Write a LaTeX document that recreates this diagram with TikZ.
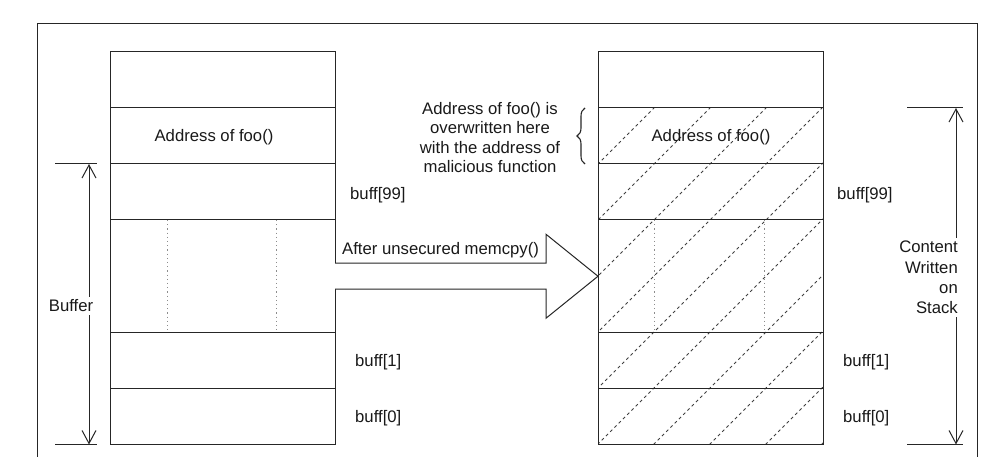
\documentclass[tikz,border=0pt]{standalone}
\usepackage{fontspec}
\setmainfont{Liberation Sans}
\usetikzlibrary{arrows.meta,decorations.pathreplacing}
\begin{document}
\begin{tikzpicture}[x=1pt,y=-1pt,
  ln/.style={draw=black!85,line width=1pt},
  cell/.style={draw=black!85,line width=1pt,minimum width=225pt,inner sep=0pt,outer sep=0pt},
  txt/.style={inner sep=0pt,font=\fontsize{16.7}{19.5}\selectfont,text=black!90},
  lbl/.style={txt,fill=white,inner sep=3pt},
  hatch/.style={draw=black!75,line width=1pt,dash pattern=on 3pt off 3pt},
  dots/.style={draw=black!45,line width=0.9pt,dash pattern=on 1.2pt off 3pt},
  dim/.style={draw=black!85,line width=1pt,{Straight Barb[length=13pt,width=14pt]}-{Straight Barb[length=13pt,width=14pt]}}
]
\useasboundingbox (0,0) rectangle (989,457);
% outer frame
\draw[ln] (37,458) -- (37,24) -- (977,24) -- (977,458);

% hatching of the right stack
\begin{scope}
\clip (598,108) rectangle (823,444.5);
\foreach \c in {762,818,...,1266} \draw[hatch] ({\c-444.5},444.5) -- ({\c-108},108);
\end{scope}

% left stack
\node[cell,minimum height=56pt] (L0) at (222.5,80) {};
\node[cell,minimum height=56pt] (L1) at (222.5,136) {};
\node[cell,minimum height=56pt] (L2) at (222.5,192) {};
\node[cell,minimum height=112.5pt] (L3) at (222.5,276.25) {};
\node[cell,minimum height=56pt] (L4) at (222.5,360.5) {};
\node[cell,minimum height=56pt] (L5) at (222.5,416.5) {};
\draw[dots] (167,220) -- (167,332.5);
\draw[dots] (276,220) -- (276,332.5);

% right stack
\node[cell,minimum height=56pt] (R0) at (710.5,80) {};
\node[cell,minimum height=56pt] (R1) at (710.5,136) {};
\node[cell,minimum height=56pt] (R2) at (710.5,192) {};
\node[cell,minimum height=112.5pt] (R3) at (710.5,276.25) {};
\node[cell,minimum height=56pt] (R4) at (710.5,360.5) {};
\node[cell,minimum height=56pt] (R5) at (710.5,416.5) {};
\draw[dots] (654,220) -- (654,332.5);
\draw[dots] (764,220) -- (764,332.5);

% texts in cells
\node[txt] (Laddr) at (214,137) {Address of foo()};
\node[txt] (Raddr) at (711,137) {Address of foo()};

% buff labels
\node[txt,anchor=west] (lb99) at (350,195) {buff[99]};
\node[txt,anchor=west] (lb1) at (355,362) {buff[1]};
\node[txt,anchor=west] (lb0) at (355,418) {buff[0]};
\node[txt,anchor=west] (rb99) at (837,195) {buff[99]};
\node[txt,anchor=west] (rb1) at (843,362) {buff[1]};
\node[txt,anchor=west] (rb0) at (843,418) {buff[0]};

% block arrow
\draw[ln,fill=white,line join=miter]
  ([yshift=13pt]L3.east) -- ([xshift=-52pt,yshift=13pt]R3.west)
  -- ([xshift=-52pt,yshift=42pt]R3.west) -- (R3.west)
  -- ([xshift=-52pt,yshift=-42pt]R3.west) -- ([xshift=-52pt,yshift=-13pt]R3.west)
  -- ([yshift=-13pt]L3.east);
\node[txt,anchor=west] (memcpy) at (342,250) {After unsecured memcpy()};

% brace annotation
\draw[draw=black!85,line width=1.1pt,decorate,decoration={brace,amplitude=8pt}] (585,164) -- (585,108);
\node[txt,align=center] (note) at (490,137.5) {Address of foo() is\\overwritten here\\with the address of\\malicious function};

% Buffer dimension
\coordinate (bt1) at (55,164); \coordinate (bt2) at (97,164);
\coordinate (bb1) at (55,444.5); \coordinate (bb2) at (97,444.5);
\coordinate (ba) at (89,164); \coordinate (bb) at (89,444.5);
\draw[ln] (bt1) -- (bt2);
\draw[ln] (bb1) -- (bb2);
\draw[dim] (ba) -- (bb);
\node[lbl] (buffer) at (71,306) {Buffer};

% Content dimension
\coordinate (ct1) at (907,108); \coordinate (ct2) at (963,108);
\coordinate (cb1) at (907,444.5); \coordinate (cb2) at (963,444.5);
\coordinate (ca) at (956,108); \coordinate (cb) at (956,444.5);
\draw[ln] (ct1) -- (ct2);
\draw[ln] (cb1) -- (cb2);
\draw[dim] (ca) -- (cb);
\node[lbl,align=right,anchor=east,font=\fontsize{16.7}{20.3}\selectfont] (content) at (961,277.5) {Content\\Written\\on\\Stack};
\end{tikzpicture}
\end{document}
